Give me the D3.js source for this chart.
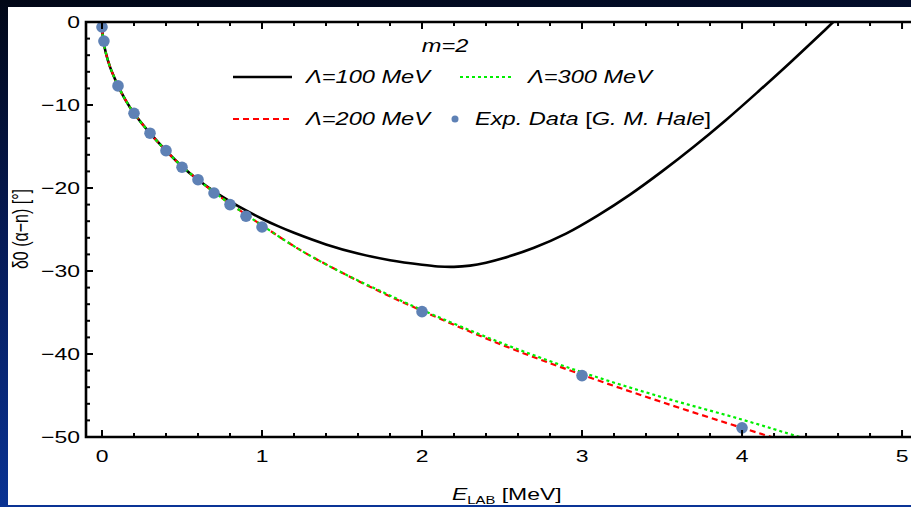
<!DOCTYPE html>
<html>
<head>
<meta charset="utf-8">
<script src="https://cdn.jsdelivr.net/npm/d3@7"></script>
<style>
  body { margin: 0; overflow: hidden; }
  svg text { font-family: "Liberation Sans", Arial, sans-serif; fill: #000; }
  .tic-label { font-size: 17px; }
  .legend { font-size: 17.5px; font-style: italic; }
</style>
</head>
<body>
<div id="chart"></div>
<script>
/* Data ***********************************************************************/

// experimental points [G. M. Hale]
var exp_E     = [0.0, 0.012, 0.1, 0.2, 0.3, 0.4, 0.5, 0.6, 0.7, 0.8, 0.9, 1.0, 2.0, 3.0, 4.0],
    exp_delta = [-0.6, -2.3, -7.7, -11.0, -13.4, -15.5, -17.5, -19.0, -20.6, -22.0, -23.4, -24.7, -34.9, -42.6, -48.9];

// Lambda = 100 MeV
var l100_E     = [0, 0.0025, 0.01, 0.025, 0.05, 0.075, 0.1, 0.15, 0.2, 0.3, 0.4, 0.5, 0.6, 0.7, 0.8, 0.9, 1.0, 1.1, 1.2, 1.4, 1.6, 1.8, 2.0, 2.1, 2.2, 2.3, 2.4, 2.5, 2.7, 2.9, 3.1, 3.3, 3.5, 3.7, 3.9, 4.1, 4.3, 4.5, 4.57, 4.7],
    l100_delta = [0, -1.2, -2.4, -3.8, -5.4, -6.6, -7.7, -9.5, -11.0, -13.4, -15.5, -17.4, -19.0, -20.4, -21.6, -22.7, -23.7, -24.6, -25.4, -26.8, -27.9, -28.7, -29.25, -29.45, -29.5, -29.35, -29.0, -28.5, -27.2, -25.5, -23.3, -20.8, -18.0, -15.0, -11.8, -8.4, -4.9, -1.3, 0.0, 2.3];

// Lambda = 200 MeV
var l200_E     = [0, 0.0025, 0.01, 0.025, 0.05, 0.075, 0.1, 0.15, 0.2, 0.3, 0.4, 0.5, 0.6, 0.7, 0.8, 0.9, 1.0, 1.25, 1.5, 1.75, 2.0, 2.5, 3.0, 3.5, 4.0, 4.2, 4.4],
    l200_delta = [0, -1.2, -2.4, -3.8, -5.4, -6.6, -7.7, -9.5, -11.0, -13.4, -15.5, -17.4, -19.0, -20.5, -21.9, -23.2, -24.5, -27.6, -30.2, -32.6, -34.8, -38.9, -42.5, -45.8, -48.9, -50.1, -51.3];

// Lambda = 300 MeV
var l300_E     = [0, 0.0025, 0.01, 0.025, 0.05, 0.075, 0.1, 0.15, 0.2, 0.3, 0.4, 0.5, 0.6, 0.7, 0.8, 0.9, 1.0, 1.25, 1.5, 1.75, 2.0, 2.5, 3.0, 3.5, 4.0, 4.36, 4.5],
    l300_delta = [0, -1.2, -2.4, -3.8, -5.4, -6.6, -7.7, -9.5, -11.0, -13.4, -15.5, -17.4, -19.0, -20.5, -21.9, -23.2, -24.5, -27.6, -30.2, -32.5, -34.7, -38.7, -42.2, -45.2, -47.9, -50.0, -50.8];

// ticks
var xtic_major = [0, 1, 2, 3, 4, 5],
    ytic_major = [0, -10, -20, -30, -40, -50];

/* Plot ***********************************************************************/

// the picture is stretched sideways, so is every text
var stretch = 1.35;

function zip(xs, ys) { return xs.map((x, i) => [x, ys[i]]); }

function put_text(parent, x, y, anchor, cls)
{
    return parent.append('text')
        .attr('transform', `translate(${x},${y}) scale(${stretch},1)`)
        .attr('text-anchor', anchor || 'start')
        .attr('class', cls || null);
}

function build_plot()
{
    let width = 911, height = 507,
        frame = { left: 86, right: 911, top: 22, bottom: 437 },
        major_len = 7, minor_len = 4;

    let svg = d3.select('#chart').append('svg')
        .attr('width', width).attr('height', height);

    // slide background
    let defs = svg.append('defs');
    let grad = defs.append('linearGradient').attr('id', 'bg')
        .attr('x1', 0).attr('y1', 0).attr('x2', 0.15).attr('y2', 1);
    grad.append('stop').attr('offset', '0%').attr('stop-color', '#010716');
    grad.append('stop').attr('offset', '45%').attr('stop-color', '#061a55');
    grad.append('stop').attr('offset', '100%').attr('stop-color', '#0a3496');
    svg.append('rect').attr('width', width).attr('height', height).attr('fill', 'url(#bg)');
    svg.append('rect').attr('x', 8).attr('y', 7).attr('width', width - 8).attr('height', 498).attr('fill', '#fff');

    defs.append('clipPath').attr('id', 'clip').append('rect')
        .attr('x', frame.left).attr('y', frame.top)
        .attr('width', frame.right - frame.left).attr('height', frame.bottom - frame.top);

    let x = d3.scaleLinear().domain([-0.1, 5.056]).range([frame.left, frame.right]),
        y = d3.scaleLinear().domain([-50, 0]).range([frame.bottom, frame.top]);

    let line = d3.line().x(d => x(d[0])).y(d => y(d[1])).curve(d3.curveCatmullRom.alpha(0.5));

    // curves
    let curves = svg.append('g').attr('clip-path', 'url(#clip)');
    curves.append('path').datum(zip(l100_E, l100_delta))
        .attr('d', line).attr('fill', 'none').attr('stroke', '#000').attr('stroke-width', 2.6);
    curves.append('path').datum(zip(l200_E, l200_delta))
        .attr('d', line).attr('fill', 'none').attr('stroke', '#ff0000').attr('stroke-width', 2.2)
        .attr('stroke-dasharray', '6,4');
    curves.append('path').datum(zip(l300_E, l300_delta))
        .attr('d', line).attr('fill', 'none').attr('stroke', '#00ee00').attr('stroke-width', 2.2)
        .attr('stroke-dasharray', '3,3');

    // data points
    svg.append('g').selectAll('circle').data(zip(exp_E, exp_delta)).enter()
        .append('circle')
        .attr('cx', d => x(d[0])).attr('cy', d => y(d[1]))
        .attr('r', 5.8).attr('fill', '#5e81b5');

    // frame axes, ticks inward
    let xtic_minor = d3.range(0, 5.01, 0.2).filter(v => Math.abs(v - Math.round(v)) > 1e-6),
        ytic_minor = d3.range(-48, 0, 2).filter(v => v % 10 != 0);

    let axes = svg.append('g').attr('stroke', '#000');
    [[frame.bottom, -1], [frame.top, 1]].forEach(([yy, dir]) => {
        axes.selectAll(null).data(xtic_major).enter().append('line')
            .attr('x1', d => x(d)).attr('x2', d => x(d))
            .attr('y1', yy).attr('y2', yy + dir * major_len).attr('stroke-width', 2);
        axes.selectAll(null).data(xtic_minor).enter().append('line')
            .attr('x1', d => x(d)).attr('x2', d => x(d))
            .attr('y1', yy).attr('y2', yy + dir * minor_len).attr('stroke-width', 2);
    });
    axes.selectAll(null).data(ytic_major).enter().append('line')
        .attr('x1', frame.left).attr('x2', frame.left + major_len)
        .attr('y1', d => y(d)).attr('y2', d => y(d)).attr('stroke-width', 2);
    axes.selectAll(null).data(ytic_minor).enter().append('line')
        .attr('x1', frame.left).attr('x2', frame.left + minor_len)
        .attr('y1', d => y(d)).attr('y2', d => y(d)).attr('stroke-width', 2);

    axes.append('path').attr('fill', 'none').attr('stroke-width', 2.6)
        .attr('d', `M${frame.right},${frame.top}H${frame.left}V${frame.bottom}H${frame.right}`);

    // tick labels
    let tl = svg.append('g');
    xtic_major.forEach(d => put_text(tl, x(d), 462, 'middle', 'tic-label').text(d));
    ytic_major.forEach(d => put_text(tl, 80, y(d) + 6, 'end', 'tic-label')
        .text(d == 0 ? '0' : '\u2212' + Math.abs(d)));

    // axis labels
    let xl = put_text(svg, 452, 500).style('font-size', '17px');
    xl.append('tspan').style('font-style', 'italic').text('E');
    xl.append('tspan').attr('dy', 4).style('font-size', '11px').text('LAB');
    xl.append('tspan').attr('dy', -4).text('\u00a0[MeV]');

    svg.append('text').attr('transform', `translate(28,229) scale(${stretch},1) rotate(-90)`)
        .attr('text-anchor', 'middle').style('font-size', '16px')
        .text('\u03b40 (\u03b1\u2212n) [\u00b0]');

    // legend
    let lg = svg.append('g');
    put_text(lg, 445, 52, 'middle', 'legend').text('m=2');

    let items = [
        { x0: 233, x1: 292, y: 77, color: '#000', dash: null, w: 2.6, tx: 306, label: '\u039b=100 MeV' },
        { x0: 460, x1: 513, y: 77, color: '#00ee00', dash: '3,3', w: 2.2, tx: 528, label: '\u039b=300 MeV' },
        { x0: 233, x1: 291, y: 119, color: '#ff0000', dash: '6,4', w: 2.2, tx: 306, label: '\u039b=200 MeV' }
    ];
    items.forEach(it => {
        lg.append('line').attr('x1', it.x0).attr('x2', it.x1).attr('y1', it.y).attr('y2', it.y)
            .attr('stroke', it.color).attr('stroke-width', it.w).attr('stroke-dasharray', it.dash);
        put_text(lg, it.tx, it.y + 6, 'start', 'legend').text(it.label);
    });
    lg.append('circle').attr('cx', 455).attr('cy', 119).attr('r', 3.5).attr('fill', '#5e81b5');
    let et = put_text(lg, 475, 125, 'start', 'legend');
    et.append('tspan').text('Exp. Data ');
    et.append('tspan').style('font-style', 'normal').text('[');
    et.append('tspan').text('G. M. Hale');
    et.append('tspan').style('font-style', 'normal').text(']');
}

build_plot();
</script>
</body>
</html>
